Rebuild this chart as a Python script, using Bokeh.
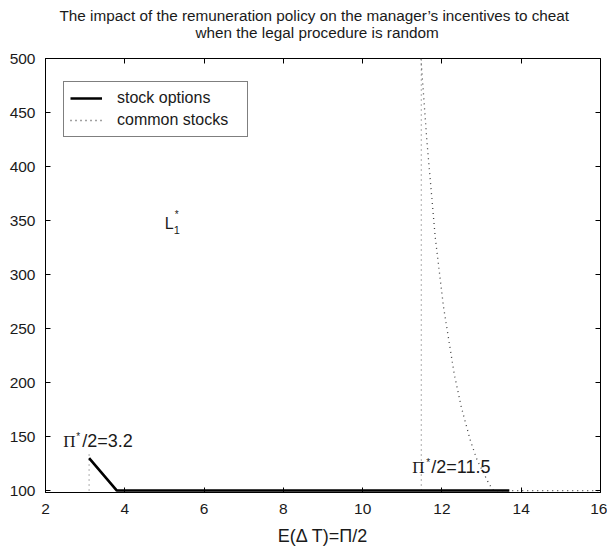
from bokeh.plotting import figure
from bokeh.models import (Title, LinearAxis, FixedTicker, Legend, LegendItem, Label)
from bokeh.embed import file_html
from bokeh.resources import INLINE

# ---- data ----
x_ticks = [2, 4, 6, 8, 10, 12, 14, 16]
y_ticks = [100, 150, 200, 250, 300, 350, 400, 450, 500]

# stock options (solid)
so_x = [3.1, 3.8, 13.7]
so_y = [130, 100, 100]

# common stocks (dotted)
cs_x = [11.47, 11.62, 11.83, 12.04, 12.31, 12.49, 12.72, 12.89, 13.19, 13.3, 16.0]
cs_y = [500, 424, 335, 270, 208, 177, 146, 128, 106, 100, 100]

# thresholds Pi*/2 (dotted verticals)
ref_x = [3.1, 11.48]
ref_y0 = [100, 100]
ref_y1 = [135, 500]

title_lines = ["The impact of the remuneration policy on the manager\u2019s incentives to cheat",
               "when the legal procedure is random"]

FONT = "Liberation Sans"
TXT = "#1a1a1a"

p = figure(width=607, height=552, x_range=(2, 16), y_range=(98.2, 500),
           output_backend="svg", toolbar_location=None,
           min_border_left=45, min_border_right=7, min_border_top=58,
           min_border_bottom=60, title=None)
bottom_ax = p.below[0]
left_ax = p.left[0]

top_ax = LinearAxis(ticker=FixedTicker(ticks=x_ticks),
                    major_label_overrides={t: "" for t in x_ticks},
                    major_label_standoff=0, axis_line_color=None, major_tick_in=5,
                    major_tick_out=0, minor_tick_line_color=None,
                    major_tick_line_color="black")
spacer_ax = LinearAxis(ticker=FixedTicker(ticks=x_ticks),
                       major_label_overrides={t: "" for t in x_ticks},
                       major_label_standoff=0, axis_line_color=None, major_tick_in=0,
                       major_tick_out=18, minor_tick_line_color=None,
                       major_tick_line_color=None)
right_ax = LinearAxis(ticker=FixedTicker(ticks=y_ticks),
                      major_label_overrides={t: "" for t in y_ticks},
                      major_label_standoff=0, axis_line_color=None, major_tick_in=5,
                      major_tick_out=0, minor_tick_line_color=None,
                      major_tick_line_color="black")
p.add_layout(top_ax, "above")
p.add_layout(spacer_ax, "above")
p.add_layout(right_ax, "right")

# second line indented with no-break spaces so that it sits centred under the first
title_text = title_lines[0] + "\n" + "\u00a0" * 32 + title_lines[1]
title = Title(text=title_text, align="left", offset=14,
              text_font=FONT, text_font_size="15.3px", text_font_style="normal",
              text_color=TXT, standoff=0, text_line_height=1.0)
p.add_layout(title, "above")

p.grid.visible = False
p.outline_line_color = "black"
p.outline_line_width = 1
p.background_fill_color = "white"
p.border_fill_color = "white"

for ax in (bottom_ax, left_ax):
    ax.major_tick_in = 5
    ax.major_tick_out = 0
    ax.minor_tick_line_color = None
    ax.axis_line_color = "black"
    ax.major_tick_line_color = "black"
    ax.major_label_text_font = FONT
    ax.major_label_text_font_size = "15.5px"
    ax.major_label_text_color = TXT
bottom_ax.ticker = FixedTicker(ticks=x_ticks)
left_ax.ticker = FixedTicker(ticks=y_ticks)
bottom_ax.major_label_standoff = 11
left_ax.major_label_standoff = 10
bottom_ax.axis_label = "E(\u0394 T)=\u03a0/2"
bottom_ax.axis_label_text_font = FONT
bottom_ax.axis_label_text_font_size = "18px"
bottom_ax.axis_label_text_font_style = "normal"
bottom_ax.axis_label_text_color = TXT
bottom_ax.axis_label_standoff = 9

# reference verticals
p.segment(x0=ref_x, y0=ref_y0, x1=ref_x, y1=ref_y1, line_color="#777777",
          line_width=1.2, line_dash="1 4")
r_cs = p.line(cs_x, cs_y, line_color="#444444", line_width=1.3, line_dash="1 4")
r_so = p.line(so_x, so_y, line_color="black", line_width=2.6)

legend = Legend(items=[LegendItem(label="stock options", renderers=[r_so]),
                       LegendItem(label="common stocks", renderers=[r_cs])],
                location=(18, 355), padding=6, spacing=2, margin=0,
                glyph_width=32, glyph_height=20, label_height=20,
                label_standoff=15, label_width=124,
                label_text_font=FONT, label_text_font_size="16px",
                label_text_color=TXT, border_line_color="black",
                border_line_width=1, background_fill_color="white",
                background_fill_alpha=1)
p.add_layout(legend)

def lbl(x, y, text, size="18px", font=FONT, dx=0, dy=0):
    p.add_layout(Label(x=x, y=y, text=text, x_offset=dx, y_offset=dy,
                       text_font=font, text_font_size=size, text_color=TXT,
                       text_baseline="alphabetic", text_align="left"))

# Pi*/2 = 3.2
lbl(2.45, 145.5, "\u03a0", font="Liberation Serif", size="17px")
lbl(2.45, 145.5, "*", size="10px", dx=13, dy=5)
lbl(2.45, 145.5, "/2=3.2", dx=19)
# Pi*/2 = 11.5
lbl(11.25, 121.4, "\u03a0", font="Liberation Serif", size="17px")
lbl(11.25, 121.4, "*", size="10px", dx=14, dy=5)
lbl(11.25, 121.4, "/2=11.5", dx=19)
# L1*
lbl(5.01, 347.3, "L", size="16px")
lbl(5.01, 347.3, "1", size="11px", dx=9, dy=-7)
lbl(5.01, 347.3, "*", size="10px", dx=10, dy=9)

open("out.html", "w").write(file_html(p, INLINE))
